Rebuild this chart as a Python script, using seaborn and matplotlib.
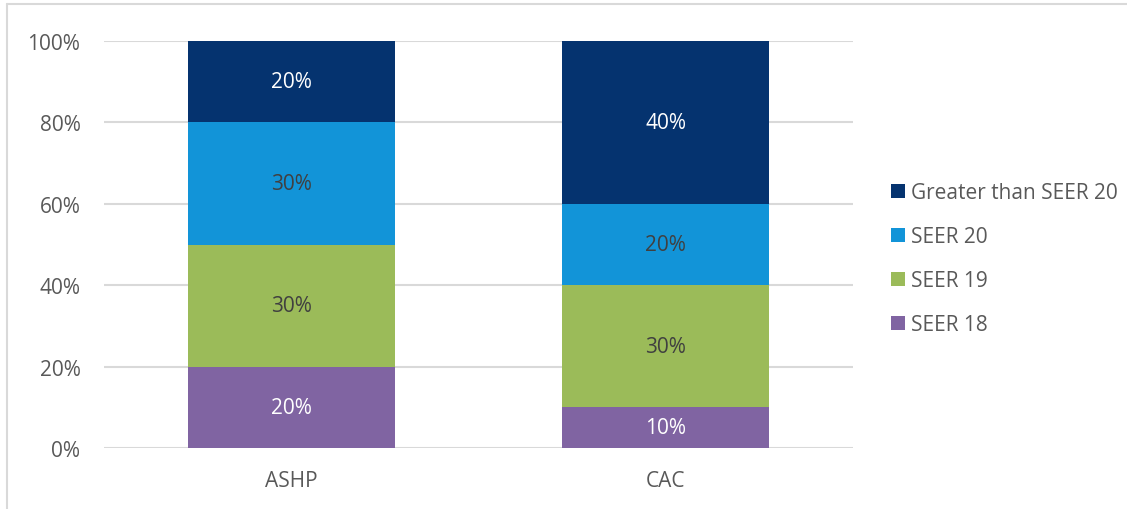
import matplotlib
matplotlib.use("Agg")
import matplotlib.pyplot as plt
import seaborn as sns
import numpy as np
import pandas as pd
from matplotlib.patches import Patch
from matplotlib.lines import Line2D

categories = ["ASHP", "CAC"]
series_names = ["SEER 18", "SEER 19", "SEER 20", "Greater than SEER 20"]
seer18 = [20, 10]
seer19 = [30, 30]
seer20 = [30, 20]
greater20 = [20, 40]
series_values = [seer18, seer19, seer20, greater20]
colors = ["#8064A2", "#9BBB59", "#1294D8", "#05336F"]
label_colors = ["white", "#404040", "#404040", "white"]
ytick_labels = ["0%", "20%", "40%", "60%", "80%", "100%"]

sns.set_theme(style="white")
plt.rcParams["font.family"] = ["Open Sans", "DejaVu Sans"]

FS = 15

fig = plt.figure(figsize=(11.27, 5.1), dpi=100)
ax = fig.add_axes([104/1127, 1-449/510, (853-104)/1127, (449-42)/510])

vals = np.array(series_values, dtype=float)
cum = np.cumsum(vals, axis=0)

# draw from the top cumulative down so lower segments overlay
for i in range(len(series_names) - 1, -1, -1):
    df = pd.DataFrame({"cat": categories, "val": cum[i]})
    sns.barplot(data=df, x="cat", y="val", color=colors[i], width=0.553,
                saturation=1, ax=ax, zorder=3, edgecolor="none")

for i in range(len(series_names)):
    for j, cat in enumerate(categories):
        mid = cum[i][j] - vals[i][j] / 2
        ax.text(j, mid, f"{int(vals[i][j])}%", ha="center", va="center",
                color=label_colors[i], fontsize=FS, zorder=5)

ax.set_ylim(0, 100)
ax.set_xlim(-0.5, 1.5)
ax.set_yticks([0, 20, 40, 60, 80, 100])
ax.set_yticklabels(ytick_labels)
ax.set_xlabel("")
ax.set_ylabel("")
ax.tick_params(axis="both", length=0, labelsize=FS, colors="#595959")
ax.tick_params(axis="y", pad=17)
ax.tick_params(axis="x", pad=16)
ax.yaxis.grid(True, color="#D9D9D9", linewidth=1.5, zorder=0)
ax.set_axisbelow(True)
for s in ax.spines.values():
    s.set_visible(False)

handles = [Patch(facecolor=colors[i], edgecolor="none") for i in range(3, -1, -1)]
labels = [series_names[i] for i in range(3, -1, -1)]
leg = fig.legend(handles, labels, loc="upper left",
                 bbox_to_anchor=(883/1127, 1-175/510), frameon=False,
                 fontsize=FS, labelcolor="#595959", handlelength=0.65,
                 handleheight=0.65, handletextpad=0.3, labelspacing=1.1,
                 borderaxespad=0)

# outer chart frame (left and top visible)
fig.add_artist(Line2D([7/1127, 7/1127], [0, 1-5/510], transform=fig.transFigure,
                      color="#D9D9D9", linewidth=1.5))
fig.add_artist(Line2D([7/1127, 1], [1-5/510, 1-5/510], transform=fig.transFigure,
                      color="#D9D9D9", linewidth=1.5))

fig.savefig("out.png", dpi=100)
